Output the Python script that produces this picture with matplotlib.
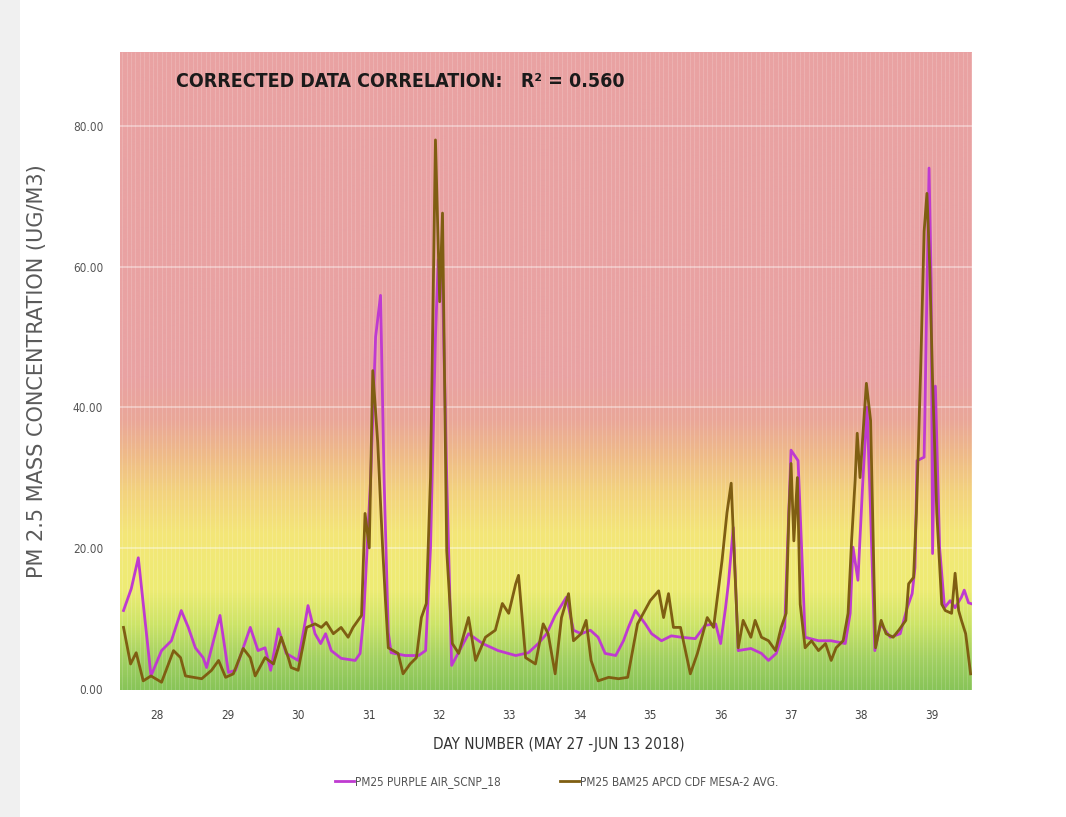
import numpy as np
import matplotlib
matplotlib.use("Agg")
import matplotlib.pyplot as plt
from matplotlib.colors import LinearSegmentedColormap
from matplotlib.patches import Rectangle

# ---------------- data ----------------
pa_day = [27.52, 27.63, 27.73, 27.91, 28.06, 28.20, 28.34, 28.44, 28.54, 28.65, 28.70, 28.89,
          29.01, 29.11, 29.32, 29.43, 29.53, 29.61, 29.72, 29.83, 30.00, 30.07, 30.14, 30.24,
          30.32, 30.39, 30.47, 30.61, 30.81, 30.88, 30.93, 31.03, 31.10, 31.17, 31.22, 31.28,
          31.32, 31.52, 31.71, 31.81, 31.88, 31.95, 31.99, 32.05, 32.11, 32.18, 32.42, 32.62,
          32.84, 33.09, 33.27, 33.41, 33.53, 33.65, 33.81, 33.91, 34.02, 34.15, 34.26, 34.36,
          34.51, 34.62, 34.69, 34.79, 34.93, 35.02, 35.16, 35.30, 35.44, 35.64, 35.78, 35.93,
          36.00, 36.07, 36.11, 36.18, 36.25, 36.43, 36.58, 36.68, 36.79, 36.91, 36.95, 37.00,
          37.06, 37.10, 37.15, 37.20, 37.39, 37.57, 37.77, 37.84, 37.88, 37.95, 38.02, 38.08,
          38.13, 38.19, 38.27, 38.41, 38.55, 38.65, 38.72, 38.76, 38.79, 38.89, 38.96, 38.99,
          39.01, 39.05, 39.11, 39.18, 39.26, 39.33, 39.42, 39.46, 39.52, 39.58]
pa_val = [11.1, 14.2, 18.6, 1.8, 5.4, 6.8, 11.1, 8.7, 5.8, 4.4, 3.0, 10.4,
          2.3, 2.6, 8.7, 5.4, 5.8, 2.6, 8.5, 5.0, 4.0, 7.8, 11.8, 7.8,
          6.4, 7.8, 5.4, 4.3, 4.0, 5.0, 10.1, 30.0, 50.0, 55.9, 30.0, 8.0,
          5.1, 4.7, 4.7, 5.4, 20.0, 50.0, 61.0, 58.0, 30.0, 3.3, 7.8, 6.4,
          5.4, 4.7, 5.1, 6.4, 7.8, 10.4, 13.0, 8.3, 7.8, 8.3, 7.3, 5.0,
          4.7, 6.8, 8.7, 11.1, 9.2, 7.8, 6.8, 7.5, 7.3, 7.1, 9.0, 9.2,
          6.4, 11.5, 14.9, 22.9, 5.4, 5.7, 5.0, 4.0, 5.0, 8.7, 20.0, 33.9,
          33.0, 32.4, 20.0, 7.3, 6.8, 6.8, 6.4, 10.7, 20.1, 15.4, 29.6, 40.0,
          25.0, 5.4, 9.2, 7.3, 7.8, 11.5, 13.5, 17.2, 32.4, 32.9, 74.0, 58.0,
          19.2, 43.0, 20.0, 11.5, 12.5, 11.5, 13.0, 14.0, 12.2, 12.0]

bam_day = [27.52, 27.62, 27.70, 27.80, 27.91, 28.06, 28.23, 28.33, 28.40, 28.63, 28.77, 28.87,
           28.97, 29.08, 29.22, 29.32, 29.39, 29.53, 29.65, 29.76, 29.86, 29.90, 30.00, 30.12,
           30.24, 30.33, 30.40, 30.50, 30.61, 30.71, 30.78, 30.90, 30.95, 31.01, 31.06, 31.13,
           31.20, 31.24, 31.28, 31.42, 31.49, 31.59, 31.68, 31.75, 31.82, 31.88, 31.95, 32.01,
           32.05, 32.11, 32.19, 32.28, 32.42, 32.52, 32.66, 32.80, 32.90, 32.99, 33.09, 33.13,
           33.23, 33.37, 33.48, 33.55, 33.65, 33.74, 33.84, 33.91, 34.02, 34.09, 34.16, 34.26,
           34.41, 34.55, 34.68, 34.82, 35.00, 35.12, 35.19, 35.26, 35.33, 35.43, 35.57, 35.67,
           35.81, 35.90, 36.02, 36.09, 36.15, 36.21, 36.25, 36.32, 36.43, 36.49, 36.58, 36.68,
           36.78, 36.86, 36.93, 36.97, 37.00, 37.04, 37.09, 37.13, 37.20, 37.29, 37.39, 37.49,
           37.57, 37.64, 37.74, 37.81, 37.86, 37.91, 37.94, 37.98, 38.07, 38.13, 38.20, 38.28,
           38.35, 38.45, 38.53, 38.63, 38.67, 38.74, 38.78, 38.84, 38.89, 38.93, 38.97, 39.01,
           39.07, 39.14, 39.19, 39.28, 39.33, 39.38, 39.42, 39.48, 39.55]
bam_val = [8.7, 3.5, 5.1, 1.1, 1.8, 0.9, 5.4, 4.4, 1.8, 1.4, 2.6, 4.0,
           1.6, 2.1, 5.7, 4.4, 1.8, 4.4, 3.5, 7.3, 4.4, 3.0, 2.6, 8.7,
           9.2, 8.7, 9.4, 7.8, 8.7, 7.3, 8.7, 10.4, 24.9, 20.0, 45.2, 35.0,
           20.0, 12.5, 5.8, 5.0, 2.1, 3.5, 4.4, 10.1, 12.1, 30.0, 78.0, 55.0,
           67.6, 19.6, 6.4, 5.0, 10.1, 4.0, 7.3, 8.3, 12.1, 10.7, 14.9, 16.1,
           4.4, 3.5, 9.2, 7.8, 2.1, 10.1, 13.5, 6.8, 7.8, 9.7, 4.0, 1.1,
           1.6, 1.4, 1.6, 9.2, 12.5, 13.9, 10.1, 13.5, 8.7, 8.7, 2.1, 5.0,
           10.1, 8.7, 18.2, 25.0, 29.2, 15.0, 5.8, 9.7, 7.3, 9.7, 7.3, 6.8,
           5.4, 8.7, 10.7, 25.0, 32.0, 21.0, 30.0, 12.0, 5.8, 6.8, 5.4, 6.4,
           4.0, 5.8, 6.8, 10.7, 21.0, 29.6, 36.3, 30.0, 43.4, 38.1, 5.8, 9.7,
           7.8, 7.3, 8.3, 9.7, 14.9, 15.8, 24.9, 45.0, 65.0, 70.4, 60.0, 43.8,
           25.0, 12.0, 11.1, 10.7, 16.4, 11.1, 9.7, 7.8, 2.1]

x_ticks = [28, 29, 30, 31, 32, 33, 34, 35, 36, 37, 38, 39]
y_ticks = [0, 20, 40, 60, 80]
series_names = ["PM25 PURPLE AIR_SCNP_18", "PM25 BAM25 APCD CDF MESA-2 AVG."]
title_text = "CORRECTED DATA CORRELATION:   R² = 0.560"
x_label = "DAY NUMBER (MAY 27 -JUN 13 2018)"
y_label = "PM 2.5 MASS CONCENTRATION (UG/M3)"

# ---------------- figure ----------------
fig = plt.figure(figsize=(10.66, 8.17), dpi=100)
fig.patch.set_facecolor("white")
fig.add_artist(Rectangle((0, 0), 20 / 1066, 1, transform=fig.transFigure,
                         facecolor="#f0f0f0", edgecolor="none", zorder=0))

ax = fig.add_axes([120 / 1066, 1 - 690 / 817, 852 / 1066, 638 / 817])
xmin, xmax = 27.47, 39.57
ymin, ymax = -0.2, 90.5

# background gradient (value based)
stops = [(ymin, "#88c458"), (4, "#a2d062"), (9, "#cde468"), (14, "#eeec74"),
         (22, "#f4e678"), (28, "#f3d27e"), (33, "#efbb88"), (38, "#eaa798"),
         (44, "#e9a2a2"), (ymax, "#e9a2a3")]
cmap = LinearSegmentedColormap.from_list(
    "bg", [((v - ymin) / (ymax - ymin), c) for v, c in stops])
grad = np.linspace(0, 1, 512).reshape(-1, 1)
ax.imshow(grad, extent=[xmin, xmax, ymin, ymax], origin="lower",
          aspect="auto", cmap=cmap, zorder=0, interpolation="bilinear")

# faint vertical texture lines
ax.vlines(np.arange(27.5, 39.6, 1 / 16), ymin, ymax, colors="white",
          linewidth=0.6, alpha=0.18, zorder=1)
# horizontal gridlines
for yv in y_ticks[1:]:
    ax.axhline(yv, color="white", linewidth=1.2, alpha=0.45, zorder=1)

ax.plot(pa_day, pa_val, color="#bf3ad0", linewidth=2.0, zorder=3,
        solid_joinstyle="round", label=series_names[0])
ax.plot(bam_day, bam_val, color="#7f5e12", linewidth=2.0, zorder=4,
        solid_joinstyle="round", label=series_names[1])

ax.set_xlim(xmin, xmax)
ax.set_ylim(ymin, ymax)
for s in ax.spines.values():
    s.set_visible(False)

fam = ["DejaVu Sans"]
cond = dict(family=fam, stretch="condensed")
ax.set_xticks(x_ticks)
ax.set_xticklabels([str(t) for t in x_ticks], fontsize=8.5, color="#444444", **cond)
ax.set_yticks(y_ticks)
ax.set_yticklabels([f"{t:.2f}" for t in y_ticks], fontsize=8.5, color="#555555", **cond)
ax.tick_params(length=0, pad=12)
ax.tick_params(axis="x", pad=14)

ax.set_xlabel(x_label, fontsize=11, color="#333333", **cond)
ax.xaxis.set_label_coords(0.515, -0.074)
ax.set_ylabel(y_label, fontsize=15, color="#5a5a5a", family=fam)
ax.yaxis.set_label_coords(-0.086, 0.5)

ax.text(0.066, 0.953, title_text, transform=ax.transAxes, fontsize=14,
        fontweight="bold", color="#1a1a1a", va="center", ha="left",
        zorder=5, **cond)

leg = fig.legend(loc="center", bbox_to_anchor=(0.522, 1 - 782 / 817), ncol=2,
                 frameon=False,
                 prop={"family": fam, "stretch": "condensed", "size": 8.5},
                 handlelength=1.6, columnspacing=5.0, handletextpad=0.1)
for t in leg.get_texts():
    t.set_color("#555555")

fig.savefig("out.png", dpi=100)
